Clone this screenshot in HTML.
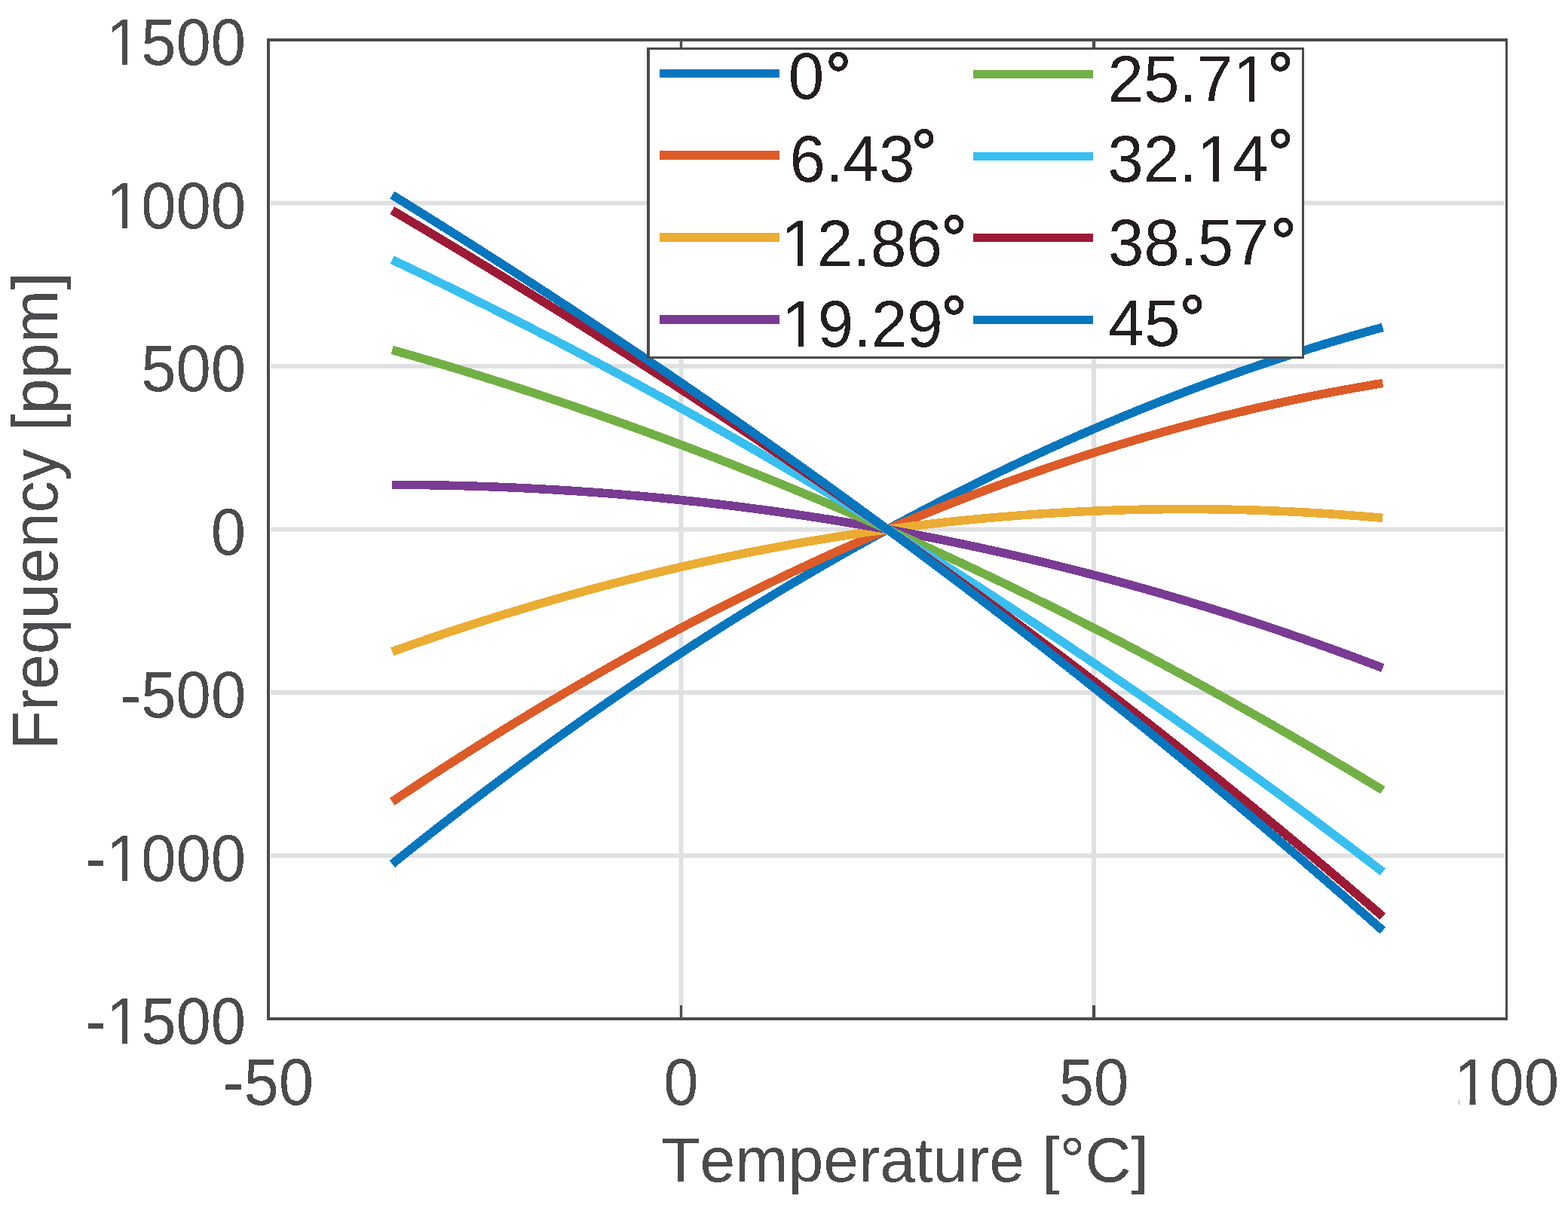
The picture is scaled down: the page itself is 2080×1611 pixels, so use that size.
<!DOCTYPE html>
<html><head><meta charset="utf-8"><title>Frequency vs Temperature</title>
<style>html,body{margin:0;padding:0;background:#fff;overflow:hidden;}svg{display:block;}text{font-kerning:none;font-feature-settings:"kern" 0;}</style></head>
<body>
<svg width="2080" height="1611" viewBox="0 0 2080 1611">
<defs><filter id="crisp" x="0" y="0" width="1" height="1" color-interpolation-filters="sRGB"><feComponentTransfer><feFuncA type="discrete" tableValues="0 1"/></feComponentTransfer></filter></defs>
<rect width="2080" height="1611" fill="#ffffff"/>
<g stroke="#dfe0e2" stroke-width="6" fill="none"><line x1="359.0" y1="269.50" x2="1995.5" y2="269.50"/><line x1="359.0" y1="486.00" x2="1995.5" y2="486.00"/><line x1="359.0" y1="702.50" x2="1995.5" y2="702.50"/><line x1="359.0" y1="919.00" x2="1995.5" y2="919.00"/><line x1="359.0" y1="1135.50" x2="1995.5" y2="1135.50"/><line x1="903.50" y1="55.0" x2="903.50" y2="1350.0"/><line x1="1451.00" y1="55.0" x2="1451.00" y2="1350.0"/></g>
<g fill="none" stroke-width="11.5" stroke-linejoin="round" stroke-linecap="butt" shape-rendering="crispEdges"><path d="M520.25,1146.59 L531.20,1137.77 L542.15,1129.00 L553.10,1120.27 L564.05,1111.59 L575.00,1102.96 L585.95,1094.38 L596.90,1085.84 L607.85,1077.35 L618.80,1068.91 L629.75,1060.52 L640.70,1052.18 L651.65,1043.88 L662.60,1035.64 L673.55,1027.44 L684.50,1019.29 L695.45,1011.18 L706.40,1003.13 L717.35,995.12 L728.30,987.16 L739.25,979.25 L750.20,971.39 L761.15,963.57 L772.10,955.81 L783.05,948.09 L794.00,940.42 L804.95,932.80 L815.90,925.22 L826.85,917.70 L837.80,910.22 L848.75,902.79 L859.70,895.41 L870.65,888.08 L881.60,880.80 L892.55,873.56 L903.50,866.38 L914.45,859.24 L925.40,852.15 L936.35,845.11 L947.30,838.11 L958.25,831.17 L969.20,824.27 L980.15,817.43 L991.10,810.63 L1002.05,803.88 L1013.00,797.18 L1023.95,790.52 L1034.90,783.92 L1045.85,777.37 L1056.80,770.86 L1067.75,764.40 L1078.70,757.99 L1089.65,751.63 L1100.60,745.32 L1111.55,739.05 L1122.50,732.84 L1133.45,726.67 L1144.40,720.56 L1155.35,714.49 L1166.30,708.47 L1177.25,702.50 L1188.20,696.58 L1199.15,690.71 L1210.10,684.88 L1221.05,679.11 L1232.00,673.38 L1242.95,667.71 L1253.90,662.08 L1264.85,656.50 L1275.80,650.97 L1286.75,645.49 L1297.70,640.06 L1308.65,634.67 L1319.60,629.34 L1330.55,624.06 L1341.50,618.82 L1352.45,613.64 L1363.40,608.50 L1374.35,603.41 L1385.30,598.37 L1396.25,593.38 L1407.20,588.44 L1418.15,583.55 L1429.10,578.71 L1440.05,573.92 L1451.00,569.18 L1461.95,564.48 L1472.90,559.84 L1483.85,555.25 L1494.80,550.70 L1505.75,546.20 L1516.70,541.76 L1527.65,537.36 L1538.60,533.01 L1549.55,528.72 L1560.50,524.47 L1571.45,520.27 L1582.40,516.12 L1593.35,512.02 L1604.30,507.97 L1615.25,503.97 L1626.20,500.02 L1637.15,496.11 L1648.10,492.26 L1659.05,488.46 L1670.00,484.71 L1680.95,481.01 L1691.90,477.35 L1702.85,473.75 L1713.80,470.20 L1724.75,466.69 L1735.70,463.24 L1746.65,459.83 L1757.60,456.48 L1768.55,453.18 L1779.50,449.92 L1790.45,446.72 L1801.40,443.56 L1812.35,440.46 L1823.30,437.40 L1834.25,434.40" stroke="#0776bd"/><path d="M520.25,1063.80 L531.20,1056.46 L542.15,1049.17 L553.10,1041.91 L564.05,1034.71 L575.00,1027.54 L585.95,1020.43 L596.90,1013.35 L607.85,1006.32 L618.80,999.33 L629.75,992.39 L640.70,985.49 L651.65,978.64 L662.60,971.82 L673.55,965.06 L684.50,958.34 L695.45,951.66 L706.40,945.03 L717.35,938.44 L728.30,931.89 L739.25,925.39 L750.20,918.94 L761.15,912.53 L772.10,906.16 L783.05,899.84 L794.00,893.57 L804.95,887.34 L815.90,881.15 L826.85,875.01 L837.80,868.91 L848.75,862.86 L859.70,856.86 L870.65,850.89 L881.60,844.98 L892.55,839.11 L903.50,833.28 L914.45,827.50 L925.40,821.77 L936.35,816.08 L947.30,810.44 L958.25,804.84 L969.20,799.28 L980.15,793.78 L991.10,788.32 L1002.05,782.90 L1013.00,777.53 L1023.95,772.21 L1034.90,766.93 L1045.85,761.69 L1056.80,756.51 L1067.75,751.37 L1078.70,746.27 L1089.65,741.22 L1100.60,736.22 L1111.55,731.27 L1122.50,726.36 L1133.45,721.49 L1144.40,716.67 L1155.35,711.90 L1166.30,707.18 L1177.25,702.50 L1188.20,697.87 L1199.15,693.28 L1210.10,688.74 L1221.05,684.25 L1232.00,679.81 L1242.95,675.41 L1253.90,671.06 L1264.85,666.75 L1275.80,662.49 L1286.75,658.28 L1297.70,654.12 L1308.65,650.00 L1319.60,645.93 L1330.55,641.91 L1341.50,637.93 L1352.45,634.00 L1363.40,630.12 L1374.35,626.28 L1385.30,622.50 L1396.25,618.76 L1407.20,615.07 L1418.15,611.42 L1429.10,607.82 L1440.05,604.27 L1451.00,600.77 L1461.95,597.32 L1472.90,593.91 L1483.85,590.55 L1494.80,587.24 L1505.75,583.98 L1516.70,580.76 L1527.65,577.59 L1538.60,574.47 L1549.55,571.40 L1560.50,568.38 L1571.45,565.40 L1582.40,562.48 L1593.35,559.60 L1604.30,556.77 L1615.25,553.98 L1626.20,551.25 L1637.15,548.56 L1648.10,545.93 L1659.05,543.34 L1670.00,540.80 L1680.95,538.31 L1691.90,535.86 L1702.85,533.47 L1713.80,531.12 L1724.75,528.83 L1735.70,526.58 L1746.65,524.38 L1757.60,522.23 L1768.55,520.13 L1779.50,518.08 L1790.45,516.07 L1801.40,514.12 L1812.35,512.22 L1823.30,510.36 L1834.25,508.55" stroke="#dc5b28"/><path d="M520.25,864.73 L531.20,860.83 L542.15,856.98 L553.10,853.17 L564.05,849.39 L575.00,845.66 L585.95,841.97 L596.90,838.31 L607.85,834.70 L618.80,831.13 L629.75,827.59 L640.70,824.10 L651.65,820.65 L662.60,817.24 L673.55,813.86 L684.50,810.53 L695.45,807.24 L706.40,803.99 L717.35,800.78 L728.30,797.61 L739.25,794.48 L750.20,791.39 L761.15,788.34 L772.10,785.33 L783.05,782.36 L794.00,779.43 L804.95,776.55 L815.90,773.70 L826.85,770.89 L837.80,768.12 L848.75,765.40 L859.70,762.71 L870.65,760.07 L881.60,757.46 L892.55,754.90 L903.50,752.38 L914.45,749.89 L925.40,747.45 L936.35,745.05 L947.30,742.69 L958.25,740.37 L969.20,738.09 L980.15,735.85 L991.10,733.65 L1002.05,731.49 L1013.00,729.37 L1023.95,727.30 L1034.90,725.26 L1045.85,723.27 L1056.80,721.31 L1067.75,719.40 L1078.70,717.52 L1089.65,715.69 L1100.60,713.90 L1111.55,712.15 L1122.50,710.44 L1133.45,708.77 L1144.40,707.14 L1155.35,705.55 L1166.30,704.01 L1177.25,702.50 L1188.20,701.03 L1199.15,699.61 L1210.10,698.23 L1221.05,696.88 L1232.00,695.58 L1242.95,694.32 L1253.90,693.10 L1264.85,691.92 L1275.80,690.79 L1286.75,689.69 L1297.70,688.63 L1308.65,687.62 L1319.60,686.65 L1330.55,685.71 L1341.50,684.82 L1352.45,683.97 L1363.40,683.16 L1374.35,682.39 L1385.30,681.67 L1396.25,680.98 L1407.20,680.34 L1418.15,679.73 L1429.10,679.17 L1440.05,678.65 L1451.00,678.17 L1461.95,677.73 L1472.90,677.33 L1483.85,676.97 L1494.80,676.66 L1505.75,676.38 L1516.70,676.15 L1527.65,675.96 L1538.60,675.81 L1549.55,675.70 L1560.50,675.63 L1571.45,675.60 L1582.40,675.62 L1593.35,675.68 L1604.30,675.77 L1615.25,675.91 L1626.20,676.09 L1637.15,676.31 L1648.10,676.58 L1659.05,676.88 L1670.00,677.23 L1680.95,677.62 L1691.90,678.04 L1702.85,678.51 L1713.80,679.03 L1724.75,679.58 L1735.70,680.18 L1746.65,680.81 L1757.60,681.49 L1768.55,682.21 L1779.50,682.97 L1790.45,683.77 L1801.40,684.62 L1812.35,685.50 L1823.30,686.43 L1834.25,687.40" stroke="#ebac33"/><path d="M520.25,643.27 L531.20,643.32 L542.15,643.40 L553.10,643.51 L564.05,643.66 L575.00,643.83 L585.95,644.03 L596.90,644.27 L607.85,644.53 L618.80,644.83 L629.75,645.15 L640.70,645.51 L651.65,645.90 L662.60,646.32 L673.55,646.77 L684.50,647.25 L695.45,647.76 L706.40,648.31 L717.35,648.88 L728.30,649.49 L739.25,650.13 L750.20,650.80 L761.15,651.50 L772.10,652.24 L783.05,653.01 L794.00,653.80 L804.95,654.64 L815.90,655.50 L826.85,656.39 L837.80,657.32 L848.75,658.28 L859.70,659.27 L870.65,660.30 L881.60,661.36 L892.55,662.45 L903.50,663.57 L914.45,664.73 L925.40,665.91 L936.35,667.14 L947.30,668.39 L958.25,669.68 L969.20,671.00 L980.15,672.35 L991.10,673.74 L1002.05,675.16 L1013.00,676.62 L1023.95,678.10 L1034.90,679.63 L1045.85,681.18 L1056.80,682.77 L1067.75,684.39 L1078.70,686.05 L1089.65,687.74 L1100.60,689.47 L1111.55,691.23 L1122.50,693.02 L1133.45,694.85 L1144.40,696.71 L1155.35,698.60 L1166.30,700.53 L1177.25,702.50 L1188.20,704.50 L1199.15,706.53 L1210.10,708.60 L1221.05,710.71 L1232.00,712.85 L1242.95,715.02 L1253.90,717.23 L1264.85,719.48 L1275.80,721.76 L1286.75,724.07 L1297.70,726.42 L1308.65,728.81 L1319.60,731.23 L1330.55,733.68 L1341.50,736.18 L1352.45,738.70 L1363.40,741.27 L1374.35,743.87 L1385.30,746.50 L1396.25,749.18 L1407.20,751.88 L1418.15,754.63 L1429.10,757.41 L1440.05,760.23 L1451.00,763.08 L1461.95,765.97 L1472.90,768.89 L1483.85,771.86 L1494.80,774.86 L1505.75,777.89 L1516.70,780.97 L1527.65,784.07 L1538.60,787.22 L1549.55,790.41 L1560.50,793.63 L1571.45,796.88 L1582.40,800.18 L1593.35,803.51 L1604.30,806.88 L1615.25,810.29 L1626.20,813.73 L1637.15,817.22 L1648.10,820.74 L1659.05,824.30 L1670.00,827.89 L1680.95,831.53 L1691.90,835.20 L1702.85,838.91 L1713.80,842.66 L1724.75,846.44 L1735.70,850.27 L1746.65,854.13 L1757.60,858.03 L1768.55,861.97 L1779.50,865.95 L1790.45,869.97 L1801.40,874.02 L1812.35,878.12 L1823.30,882.25 L1834.25,886.42" stroke="#793b93"/><path d="M520.25,464.39 L531.20,467.49 L542.15,470.61 L553.10,473.77 L564.05,476.95 L575.00,480.16 L585.95,483.41 L596.90,486.68 L607.85,489.98 L618.80,493.31 L629.75,496.67 L640.70,500.06 L651.65,503.48 L662.60,506.93 L673.55,510.41 L684.50,513.92 L695.45,517.45 L706.40,521.02 L717.35,524.62 L728.30,528.24 L739.25,531.90 L750.20,535.58 L761.15,539.30 L772.10,543.04 L783.05,546.82 L794.00,550.62 L804.95,554.46 L815.90,558.32 L826.85,562.21 L837.80,566.13 L848.75,570.09 L859.70,574.07 L870.65,578.08 L881.60,582.12 L892.55,586.19 L903.50,590.29 L914.45,594.42 L925.40,598.58 L936.35,602.77 L947.30,606.99 L958.25,611.24 L969.20,615.52 L980.15,619.83 L991.10,624.17 L1002.05,628.54 L1013.00,632.93 L1023.95,637.36 L1034.90,641.82 L1045.85,646.31 L1056.80,650.83 L1067.75,655.38 L1078.70,659.95 L1089.65,664.56 L1100.60,669.20 L1111.55,673.87 L1122.50,678.56 L1133.45,683.29 L1144.40,688.05 L1155.35,692.84 L1166.30,697.65 L1177.25,702.50 L1188.20,707.38 L1199.15,712.28 L1210.10,717.22 L1221.05,722.19 L1232.00,727.19 L1242.95,732.21 L1253.90,737.27 L1264.85,742.36 L1275.80,747.48 L1286.75,752.63 L1297.70,757.80 L1308.65,763.01 L1319.60,768.25 L1330.55,773.52 L1341.50,778.82 L1352.45,784.14 L1363.40,789.50 L1374.35,794.89 L1385.30,800.31 L1396.25,805.76 L1407.20,811.24 L1418.15,816.75 L1429.10,822.29 L1440.05,827.86 L1451.00,833.46 L1461.95,839.09 L1472.90,844.75 L1483.85,850.45 L1494.80,856.17 L1505.75,861.92 L1516.70,867.70 L1527.65,873.51 L1538.60,879.36 L1549.55,885.23 L1560.50,891.13 L1571.45,897.07 L1582.40,903.03 L1593.35,909.03 L1604.30,915.05 L1615.25,921.11 L1626.20,927.19 L1637.15,933.31 L1648.10,939.46 L1659.05,945.63 L1670.00,951.84 L1680.95,958.08 L1691.90,964.35 L1702.85,970.65 L1713.80,976.98 L1724.75,983.34 L1735.70,989.73 L1746.65,996.15 L1757.60,1002.60 L1768.55,1009.09 L1779.50,1015.60 L1790.45,1022.14 L1801.40,1028.72 L1812.35,1035.32 L1823.30,1041.96 L1834.25,1048.62" stroke="#72b045"/><path d="M520.25,344.75 L531.20,349.93 L542.15,355.14 L553.10,360.37 L564.05,365.63 L575.00,370.91 L585.95,376.22 L596.90,381.56 L607.85,386.92 L618.80,392.31 L629.75,397.73 L640.70,403.17 L651.65,408.64 L662.60,414.14 L673.55,419.66 L684.50,425.21 L695.45,430.79 L706.40,436.39 L717.35,442.02 L728.30,447.68 L739.25,453.36 L750.20,459.07 L761.15,464.80 L772.10,470.56 L783.05,476.35 L794.00,482.17 L804.95,488.01 L815.90,493.88 L826.85,499.77 L837.80,505.69 L848.75,511.64 L859.70,517.61 L870.65,523.62 L881.60,529.64 L892.55,535.70 L903.50,541.78 L914.45,547.89 L925.40,554.02 L936.35,560.18 L947.30,566.37 L958.25,572.59 L969.20,578.83 L980.15,585.10 L991.10,591.39 L1002.05,597.71 L1013.00,604.06 L1023.95,610.44 L1034.90,616.84 L1045.85,623.27 L1056.80,629.72 L1067.75,636.20 L1078.70,642.71 L1089.65,649.25 L1100.60,655.81 L1111.55,662.40 L1122.50,669.02 L1133.45,675.66 L1144.40,682.33 L1155.35,689.03 L1166.30,695.75 L1177.25,702.50 L1188.20,709.28 L1199.15,716.08 L1210.10,722.91 L1221.05,729.77 L1232.00,736.66 L1242.95,743.57 L1253.90,750.51 L1264.85,757.47 L1275.80,764.46 L1286.75,771.48 L1297.70,778.53 L1308.65,785.60 L1319.60,792.70 L1330.55,799.83 L1341.50,806.99 L1352.45,814.17 L1363.40,821.38 L1374.35,828.61 L1385.30,835.87 L1396.25,843.16 L1407.20,850.48 L1418.15,857.82 L1429.10,865.19 L1440.05,872.59 L1451.00,880.01 L1461.95,887.47 L1472.90,894.94 L1483.85,902.45 L1494.80,909.98 L1505.75,917.54 L1516.70,925.13 L1527.65,932.74 L1538.60,940.39 L1549.55,948.05 L1560.50,955.75 L1571.45,963.47 L1582.40,971.22 L1593.35,979.00 L1604.30,986.80 L1615.25,994.63 L1626.20,1002.49 L1637.15,1010.38 L1648.10,1018.29 L1659.05,1026.23 L1670.00,1034.20 L1680.95,1042.19 L1691.90,1050.22 L1702.85,1058.26 L1713.80,1066.34 L1724.75,1074.44 L1735.70,1082.58 L1746.65,1090.73 L1757.60,1098.92 L1768.55,1107.13 L1779.50,1115.37 L1790.45,1123.64 L1801.40,1131.93 L1812.35,1140.25 L1823.30,1148.60 L1834.25,1156.98" stroke="#38bfef"/><path d="M520.25,279.12 L531.20,285.59 L542.15,292.07 L553.10,298.57 L564.05,305.09 L575.00,311.63 L585.95,318.18 L596.90,324.75 L607.85,331.34 L618.80,337.95 L629.75,344.58 L640.70,351.23 L651.65,357.89 L662.60,364.58 L673.55,371.28 L684.50,378.01 L695.45,384.75 L706.40,391.51 L717.35,398.29 L728.30,405.09 L739.25,411.91 L750.20,418.76 L761.15,425.62 L772.10,432.50 L783.05,439.40 L794.00,446.32 L804.95,453.27 L815.90,460.23 L826.85,467.21 L837.80,474.22 L848.75,481.25 L859.70,488.29 L870.65,495.36 L881.60,502.45 L892.55,509.57 L903.50,516.70 L914.45,523.86 L925.40,531.03 L936.35,538.23 L947.30,545.46 L958.25,552.70 L969.20,559.97 L980.15,567.26 L991.10,574.57 L1002.05,581.91 L1013.00,589.27 L1023.95,596.65 L1034.90,604.05 L1045.85,611.48 L1056.80,618.93 L1067.75,626.41 L1078.70,633.91 L1089.65,641.43 L1100.60,648.98 L1111.55,656.55 L1122.50,664.15 L1133.45,671.77 L1144.40,679.42 L1155.35,687.09 L1166.30,694.78 L1177.25,702.50 L1188.20,710.24 L1199.15,718.01 L1210.10,725.81 L1221.05,733.63 L1232.00,741.48 L1242.95,749.35 L1253.90,757.25 L1264.85,765.17 L1275.80,773.12 L1286.75,781.10 L1297.70,789.10 L1308.65,797.13 L1319.60,805.18 L1330.55,813.27 L1341.50,821.38 L1352.45,829.51 L1363.40,837.67 L1374.35,845.87 L1385.30,854.08 L1396.25,862.33 L1407.20,870.60 L1418.15,878.90 L1429.10,887.23 L1440.05,895.59 L1451.00,903.97 L1461.95,912.39 L1472.90,920.83 L1483.85,929.30 L1494.80,937.80 L1505.75,946.32 L1516.70,954.88 L1527.65,963.46 L1538.60,972.08 L1549.55,980.72 L1560.50,989.39 L1571.45,998.10 L1582.40,1006.83 L1593.35,1015.59 L1604.30,1024.38 L1615.25,1033.21 L1626.20,1042.06 L1637.15,1050.94 L1648.10,1059.85 L1659.05,1068.80 L1670.00,1077.77 L1680.95,1086.78 L1691.90,1095.81 L1702.85,1104.88 L1713.80,1113.98 L1724.75,1123.11 L1735.70,1132.27 L1746.65,1141.46 L1757.60,1150.68 L1768.55,1159.94 L1779.50,1169.23 L1790.45,1178.55 L1801.40,1187.90 L1812.35,1197.28 L1823.30,1206.70 L1834.25,1216.15" stroke="#9d1a36"/><path d="M520.25,258.72 L531.20,265.50 L542.15,272.29 L553.10,279.11 L564.05,285.94 L575.00,292.80 L585.95,299.67 L596.90,306.57 L607.85,313.48 L618.80,320.42 L629.75,327.37 L640.70,334.34 L651.65,341.34 L662.60,348.35 L673.55,355.38 L684.50,362.44 L695.45,369.51 L706.40,376.61 L717.35,383.73 L728.30,390.86 L739.25,398.02 L750.20,405.20 L761.15,412.40 L772.10,419.62 L783.05,426.87 L794.00,434.13 L804.95,441.41 L815.90,448.72 L826.85,456.05 L837.80,463.40 L848.75,470.77 L859.70,478.16 L870.65,485.58 L881.60,493.02 L892.55,500.48 L903.50,507.96 L914.45,515.46 L925.40,522.99 L936.35,530.54 L947.30,538.11 L958.25,545.71 L969.20,553.32 L980.15,560.96 L991.10,568.63 L1002.05,576.31 L1013.00,584.02 L1023.95,591.75 L1034.90,599.51 L1045.85,607.29 L1056.80,615.09 L1067.75,622.92 L1078.70,630.77 L1089.65,638.64 L1100.60,646.54 L1111.55,654.46 L1122.50,662.41 L1133.45,670.38 L1144.40,678.37 L1155.35,686.39 L1166.30,694.43 L1177.25,702.50 L1188.20,710.59 L1199.15,718.71 L1210.10,726.85 L1221.05,735.02 L1232.00,743.21 L1242.95,751.42 L1253.90,759.66 L1264.85,767.93 L1275.80,776.22 L1286.75,784.54 L1297.70,792.88 L1308.65,801.25 L1319.60,809.65 L1330.55,818.07 L1341.50,826.51 L1352.45,834.98 L1363.40,843.48 L1374.35,852.00 L1385.30,860.55 L1396.25,869.13 L1407.20,877.73 L1418.15,886.36 L1429.10,895.02 L1440.05,903.70 L1451.00,912.41 L1461.95,921.15 L1472.90,929.91 L1483.85,938.70 L1494.80,947.52 L1505.75,956.36 L1516.70,965.23 L1527.65,974.13 L1538.60,983.06 L1549.55,992.02 L1560.50,1001.00 L1571.45,1010.01 L1582.40,1019.04 L1593.35,1028.11 L1604.30,1037.20 L1615.25,1046.33 L1626.20,1055.48 L1637.15,1064.65 L1648.10,1073.86 L1659.05,1083.10 L1670.00,1092.36 L1680.95,1101.65 L1691.90,1110.98 L1702.85,1120.33 L1713.80,1129.70 L1724.75,1139.11 L1735.70,1148.55 L1746.65,1158.02 L1757.60,1167.51 L1768.55,1177.04 L1779.50,1186.59 L1790.45,1196.18 L1801.40,1205.79 L1812.35,1215.44 L1823.30,1225.11 L1834.25,1234.81" stroke="#0776bd"/></g>
<g fill="#4a4b4d" shape-rendering="crispEdges"><rect x="902" y="1334" width="3" height="17"/><rect x="902" y="54" width="3" height="18"/><rect x="1449" y="1334" width="4" height="17"/><rect x="1449" y="54" width="4" height="18"/></g>
<g fill="#4a4b4d" shape-rendering="crispEdges"><rect x="354" y="51" width="4" height="1303"/><rect x="1997" y="51" width="3" height="1303"/><rect x="354" y="51" width="1646" height="4"/><rect x="354" y="1350" width="1646" height="4"/></g>
<g font-family="Liberation Sans, Arial, Helvetica, sans-serif" fill="#4a4b4d" filter="url(#crisp)"><text transform="translate(326.20,86.40) scale(1,1.04)" font-size="83.3" text-anchor="end">1500</text><text transform="translate(326.20,302.90) scale(1,1.04)" font-size="83.3" text-anchor="end">1000</text><text transform="translate(326.20,519.40) scale(1,1.04)" font-size="83.3" text-anchor="end">500</text><text transform="translate(326.20,735.90) scale(1,1.04)" font-size="83.3" text-anchor="end">0</text><text transform="translate(326.20,952.40) scale(1,1.04)" font-size="83.3" text-anchor="end">-500</text><text transform="translate(326.20,1168.90) scale(1,1.04)" font-size="83.3" text-anchor="end">-1000</text><text transform="translate(326.20,1385.40) scale(1,1.04)" font-size="83.3" text-anchor="end">-1500</text><text transform="translate(356.00,1466.00) scale(1,1.04)" font-size="83.3" text-anchor="middle">-50</text><text transform="translate(903.50,1466.00) scale(1,1.04)" font-size="83.3" text-anchor="middle">0</text><text transform="translate(1451.00,1466.00) scale(1,1.04)" font-size="83.3" text-anchor="middle">50</text><text transform="translate(1998.50,1466.00) scale(1,1.04)" font-size="83.3" text-anchor="middle">100</text><text transform="translate(877.11,1568.30)" font-size="84.2">Temperature [°C]</text><text transform="translate(76.00,994.62) rotate(-90)" font-size="84.4">Frequency [ppm]</text></g>
<rect x="858" y="63" width="872" height="413" fill="#ffffff"/><g fill="#4a4b4d" shape-rendering="crispEdges"><rect x="858" y="63" width="4" height="413"/><rect x="1727" y="63" width="3" height="413"/><rect x="858" y="63" width="872" height="3"/><rect x="858" y="473" width="872" height="3"/></g>
<g stroke-width="11.3" shape-rendering="crispEdges"><line x1="875" y1="97.45" x2="1034" y2="97.45" stroke="#0776bd"/><line x1="875" y1="205.95" x2="1034" y2="205.95" stroke="#dc5b28"/><line x1="875" y1="315.10" x2="1034" y2="315.10" stroke="#ebac33"/><line x1="875" y1="424.10" x2="1034" y2="424.10" stroke="#793b93"/><line x1="1291" y1="98.40" x2="1450" y2="98.40" stroke="#72b045"/><line x1="1291" y1="207.40" x2="1450" y2="207.40" stroke="#38bfef"/><line x1="1291" y1="315.80" x2="1450" y2="315.80" stroke="#9d1a36"/><line x1="1291" y1="424.60" x2="1450" y2="424.60" stroke="#0776bd"/></g>
<g font-family="Liberation Sans, Arial, Helvetica, sans-serif" fill="#231f20" filter="url(#crisp)"><text transform="translate(1045.67,131.00) scale(1,1.015)" font-size="85.3">0<tspan x="49.40" y="0.20" stroke="#231f20" stroke-width="1.5">°</tspan></text><text transform="translate(1047.47,240.60) scale(1,1.015)" font-size="85.3">6.43<tspan x="161.30" y="-7.29" stroke="#231f20" stroke-width="1.5">°</tspan></text><text transform="translate(1036.37,352.60) scale(1,1.015)" font-size="85.3">12.86<tspan x="212.20" y="-5.32" stroke="#231f20" stroke-width="1.5">°</tspan></text><text transform="translate(1037.28,459.50) scale(1,1.015)" font-size="85.3">19.29<tspan x="211.29" y="-5.81" stroke="#231f20" stroke-width="1.5">°</tspan></text><text transform="translate(1469.46,134.90) scale(1,1.015)" font-size="85.3">25.71<tspan x="212.11" y="-3.64" stroke="#231f20" stroke-width="1.5">°</tspan></text><text transform="translate(1469.27,240.70) scale(1,1.015)" font-size="85.3">32.14<tspan x="212.30" y="-7.48" stroke="#231f20" stroke-width="1.5">°</tspan></text><text transform="translate(1470.11,351.80) scale(1,1.015)" font-size="85.3">38.57<tspan x="215.36" y="-0.49" stroke="#231f20" stroke-width="1.5">°</tspan></text><text transform="translate(1470.54,458.90) scale(1,1.015)" font-size="85.3">45<tspan x="94.12" y="-5.61" stroke="#231f20" stroke-width="1.5">°</tspan></text></g>
<g fill="#ffffff" shape-rendering="crispEdges"><g transform="translate(326.20,86.40) scale(1,1.04)"><rect x="-179.21" y="-7.73" width="14.85" height="8.74"/><rect x="-157.00" y="-7.73" width="14.24" height="8.74"/></g><g transform="translate(326.20,302.90) scale(1,1.04)"><rect x="-179.21" y="-7.73" width="14.85" height="8.74"/><rect x="-157.00" y="-7.73" width="14.24" height="8.74"/></g><g transform="translate(326.20,1168.90) scale(1,1.04)"><rect x="-179.21" y="-7.73" width="14.85" height="8.74"/><rect x="-157.00" y="-7.73" width="14.24" height="8.74"/></g><g transform="translate(326.20,1385.40) scale(1,1.04)"><rect x="-179.21" y="-7.73" width="14.85" height="8.74"/><rect x="-157.00" y="-7.73" width="14.24" height="8.74"/></g><g transform="translate(1998.50,1466.00) scale(1,1.04)"><rect x="-63.39" y="-7.73" width="14.85" height="8.74"/><rect x="-41.18" y="-7.73" width="14.24" height="8.74"/></g><g transform="translate(1036.37,352.60) scale(1,1.015)"><rect x="6.25" y="-7.91" width="15.20" height="8.95"/><rect x="28.99" y="-7.91" width="14.58" height="8.95"/></g><g transform="translate(1037.28,459.50) scale(1,1.015)"><rect x="6.25" y="-7.91" width="15.20" height="8.95"/><rect x="28.99" y="-7.91" width="14.58" height="8.95"/></g><g transform="translate(1469.46,134.90) scale(1,1.015)"><rect x="172.27" y="-7.91" width="15.20" height="8.95"/><rect x="195.01" y="-7.91" width="14.58" height="8.95"/></g><g transform="translate(1469.27,240.70) scale(1,1.015)"><rect x="124.83" y="-7.91" width="15.20" height="8.95"/><rect x="147.57" y="-7.91" width="14.58" height="8.95"/></g></g>
</svg>
</body></html>
